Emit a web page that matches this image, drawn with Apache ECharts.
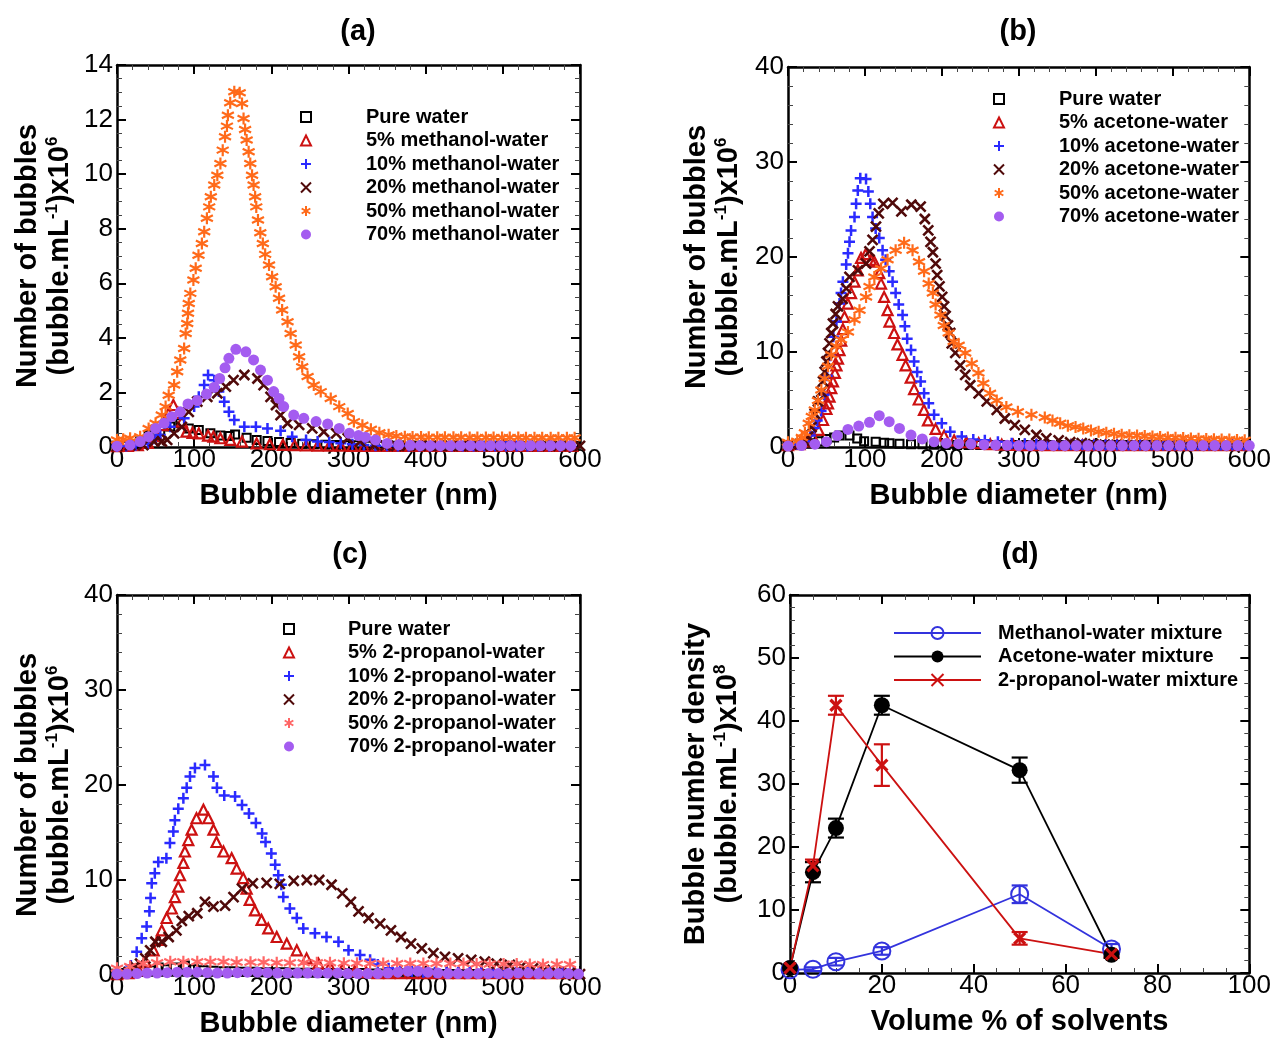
<!DOCTYPE html>
<html><head><meta charset="utf-8">
<script src="https://cdn.jsdelivr.net/npm/echarts@6/dist/echarts.min.js"></script>
<style>html,body{margin:0;padding:0;background:#fff}#c{width:1274px;height:1039px}</style>
</head><body><div id="c"></div><script>
// ---------- Panel (a): methanol-water ----------
const a_water = [[0,0.03],[12,0.05],[22,0.1],[30,0.2],[41,0.44],[56,0.6],[69,0.75],[82,0.87],[93,0.68],[106,0.62],[121,0.5],[134,0.42],[146,0.4],[153,0.46],[168,0.34],[181,0.26],[195,0.22],[210,0.18],[225,0.15],[240,0.12],[255,0.1],[270,0.08],[284,0.07],[298,0.06],[312,0.06],[326,0.05],[340,0.05],[354,0.05],[368,0.05],[382,0.05],[396,0.05],[410,0.04],[424,0.04],[438,0.04],[452,0.04],[466,0.04],[480,0.04],[494,0.04],[508,0.04],[522,0.04],[536,0.04],[550,0.04],[564,0.04],[578,0.04],[592,0.04]];
const a_5 = [[0,0.03],[14,0.04],[27,0.07],[40,0.15],[52,0.4],[60,0.8],[67,1.23],[73,1.54],[79,1.25],[84,0.93],[90,0.56],[98,0.52],[106,0.5],[118,0.42],[125,0.38],[134,0.32],[147,0.26],[162,0.2],[181,0.13],[198,0.1],[215,0.08],[230,0.07],[245,0.06],[260,0.05],[275,0.05],[290,0.05],[305,0.04],[320,0.04],[335,0.04],[350,0.04],[365,0.04],[380,0.04],[395,0.04],[410,0.04],[425,0.04],[440,0.04],[455,0.04],[470,0.04],[485,0.04],[500,0.04],[515,0.04],[530,0.04],[545,0.04],[560,0.04],[575,0.04],[590,0.04]];
const a_10 = [[0,0.03],[12,0.04],[24,0.06],[40,0.12],[50,0.3],[56,0.44],[69,0.74],[87,1.05],[100,1.48],[106,1.84],[113,2.27],[118,2.64],[126,2.45],[132,2.03],[139,1.66],[145,1.29],[152,0.99],[165,0.74],[180,0.74],[195,0.68],[212,0.6],[227,0.38],[245,0.26],[260,0.2],[275,0.18],[290,0.14],[305,0.1],[320,0.07],[335,0.05],[350,0.05],[364,0.04],[378,0.04],[392,0.04],[406,0.04],[420,0.04],[434,0.04],[448,0.04],[462,0.04],[476,0.04],[490,0.04],[504,0.04],[518,0.04],[532,0.04],[546,0.04],[560,0.04],[574,0.04],[588,0.04]];
const a_20 = [[0,0.03],[17,0.07],[34,0.07],[48,0.2],[58,0.2],[65,0.26],[74,0.5],[84,0.74],[93,1.29],[104,1.66],[117,1.84],[130,1.97],[141,2.21],[151,2.45],[165,2.64],[182,2.51],[190,2.27],[199,1.84],[206,1.54],[212,1.17],[221,0.87],[236,0.81],[253,0.68],[268,0.56],[284,0.5],[299,0.32],[315,0.2],[333,0.07],[348,0.05],[362,0.04],[376,0.04],[390,0.04],[404,0.04],[418,0.04],[432,0.04],[446,0.04],[460,0.04],[474,0.04],[488,0.04],[502,0.04],[516,0.04],[530,0.04],[544,0.04],[558,0.04],[572,0.04],[586,0.04],[600,0.04]];
const a_50 = [[0,0.26],[8,0.28],[17,0.32],[30,0.38],[41,0.68],[50,0.87],[58,1.17],[63,1.48],[67,1.9],[74,2.27],[78,2.76],[82,3.19],[87,3.61],[89,4.16],[91,4.53],[92,4.9],[93,5.26],[95,5.63],[99,6.12],[102,6.55],[105.6,7.03],[110,7.46],[113,7.89],[116.5,8.38],[119.5,8.8],[121.6,9.17],[126,9.6],[130,9.96],[134,10.39],[137,10.88],[140,11.37],[142.5,11.76],[143.7,12.16],[146.7,12.62],[152,13.02],[159,12.98],[162,12.59],[164,12.04],[166,11.64],[168,11.25],[170.6,10.82],[172.7,10.39],[175,9.96],[177,9.6],[179,9.17],[180.5,8.8],[182.7,8.32],[185.7,7.85],[189,7.46],[192,7.06],[197,6.67],[201,6.24],[205.6,5.87],[210,5.45],[214,5.02],[221,4.59],[225,4.16],[231.6,3.74],[236,3.31],[240,2.94],[247,2.58],[255,2.27],[264,2.03],[277,1.78],[288,1.48],[299,1.23],[307,0.93],[318,0.8],[329,0.65],[340,0.52],[352,0.45],[362,0.4],[373,0.38],[383,0.37],[394,0.37],[404,0.36],[415,0.36],[425,0.36],[436,0.36],[446,0.36],[457,0.35],[467,0.35],[478,0.35],[488,0.35],[499,0.35],[509,0.35],[520,0.35],[530,0.34],[541,0.34],[551,0.34],[562,0.34],[572,0.34],[583,0.34],[593,0.34]];
const a_70 = [[0,0.03],[17,0.07],[30,0.2],[41,0.38],[50,0.68],[61,0.87],[71,1.11],[82,1.29],[92,1.58],[104,1.7],[116,1.94],[126,2.19],[133,2.51],[140,2.9],[145,3.25],[154,3.58],[167,3.49],[177,3.19],[186,2.82],[195,2.45],[203,2.03],[210,1.78],[216,1.48],[229,1.17],[242,1.05],[258,0.93],[273,0.84],[288,0.68],[301,0.5],[313,0.42],[322,0.36],[335,0.26],[350,0.13],[365,0.08],[380,0.06],[393,0.05],[406,0.05],[419,0.05],[432,0.05],[445,0.05],[458,0.05],[471,0.05],[484,0.05],[497,0.05],[510,0.05],[523,0.05],[536,0.05],[549,0.05],[562,0.05],[575,0.05],[588,0.05]];

// ---------- Panel (b): acetone-water ----------
const b_water = [[0,0.2],[15,0.25],[30,0.4],[40,0.6],[50,0.85],[60,1.0],[67,1.2],[80,1.2],[90,0.9],[99,0.6],[114,0.55],[125,0.45],[132,0.4],[145,0.35],[160,0.3],[175,0.28],[190,0.25],[205,0.22],[220,0.2],[235,0.2],[250,0.2],[265,0.2],[280,0.2],[295,0.2],[310,0.2],[325,0.2],[340,0.2],[355,0.2],[370,0.2],[385,0.2],[400,0.2],[415,0.2],[430,0.2],[445,0.2],[460,0.2],[475,0.2],[490,0.2],[505,0.2],[520,0.2],[535,0.2],[550,0.2],[565,0.2],[580,0.2],[595,0.2]];
const b_5 = [[0,0.2],[15,0.3],[25,0.6],[33,1],[40,1.8],[45.6,2.84],[50,4],[52,4.6],[54,5.3],[56.3,6.2],[58.5,6.9],[61,7.8],[63,8.6],[65,9.3],[67,10.2],[69.2,11.2],[71.4,12.4],[73.5,13.7],[77.8,15.1],[82,16.2],[86.5,17.4],[90.8,18.6],[95,19.9],[101,20.3],[108,19.7],[112.3,19.5],[118.7,18.3],[121,17.2],[125,15.8],[129.5,14.4],[132,13.2],[138,12],[142.4,10.8],[149,9.7],[153,8.6],[159.6,7.3],[164,6.1],[170,5.0],[176.8,3.9],[182,2.8],[192,1.9],[203,1.2],[216,0.7],[232,0.5],[248,0.4],[263,0.3],[278,0.25],[293,0.22],[308,0.2],[323,0.2],[338,0.2],[353,0.2],[368,0.2],[383,0.2],[398,0.2],[413,0.2],[428,0.2],[443,0.2],[458,0.2],[473,0.2],[488,0.2],[503,0.2],[518,0.2],[533,0.2],[548,0.2],[563,0.2],[578,0.2],[593,0.2]];
const b_10 = [[0,0.2],[12,0.3],[22,0.6],[29,1.2],[34,2],[38,2.8],[43,3.8],[47,5.5],[51,7.5],[55,9.6],[59,11.6],[63,13.2],[67,15.1],[69,16.2],[71.4,17.4],[75.7,19.2],[78,20.4],[80,21.6],[82,22.8],[86.5,24.2],[88.6,25.6],[90.8,27],[94,28.3],[101.5,28.2],[104.5,26.9],[107,25.6],[110,24.2],[114,23],[118.7,22],[123,20.7],[127,19.7],[131.6,18.5],[136,17.4],[140,16.2],[144,15],[149,13.9],[152,12.7],[155,11.4],[160,10.2],[164,9],[168,7.9],[172.5,6.9],[177,5.65],[183,4.6],[190,3.4],[200,2.5],[211,1.6],[226,1.1],[241,0.8],[256,0.7],[273,0.56],[291,0.4],[308,0.35],[323,0.3],[338,0.28],[353,0.25],[368,0.25],[383,0.25],[398,0.22],[413,0.22],[428,0.22],[443,0.2],[458,0.2],[473,0.2],[488,0.2],[503,0.2],[518,0.2],[533,0.2],[548,0.2],[563,0.2],[578,0.2],[593,0.2]];
const b_20 = [[0,0.2],[15,0.3],[22,0.6],[26,1.1],[30.5,2.1],[34.8,3.5],[39,4.8],[43.4,5.8],[45.6,6.9],[47.7,7.9],[50,9],[52,9.9],[54,10.9],[56.3,12],[58.5,13],[62,14],[65,14.8],[71,15.6],[75.7,16.7],[80,17.9],[91,18.6],[101.5,19.3],[106,20.6],[110,21.8],[114.4,23.2],[118,24.6],[124,25.6],[136,25.7],[147.5,24.8],[160.4,25.5],[172.5,25.3],[178,24],[182.4,22.8],[185.4,21.6],[188.4,20.5],[192,19.3],[194,18.1],[197,16.9],[200.5,15.8],[203,14.8],[205,13.8],[208,12.8],[211,12],[213,10.9],[217.6,9.9],[224,8.6],[230.5,7.6],[237,6.5],[248,5.65],[258.5,4.8],[271.5,3.9],[282,3],[295,2.3],[308,1.8],[323,1.26],[336,0.9],[352,0.7],[367,0.5],[382,0.4],[397,0.3],[412,0.25],[427,0.22],[442,0.2],[457,0.2],[472,0.2],[487,0.2],[502,0.2],[517,0.2],[532,0.2],[547,0.2],[562,0.2],[577,0.2],[592,0.2]];
const b_50 = [[0,0.5],[12,0.6],[18,1.0],[22,1.5],[27,2.5],[31,3.2],[34.8,3.9],[39,4.9],[43.4,6],[47.7,7.2],[52,8.5],[56.3,9.7],[63,10.6],[69,11.3],[78,12.1],[86.5,13.4],[93,14.4],[101.5,15.8],[106,16.9],[112.3,17.9],[121,18.8],[129.5,19.7],[140,20.7],[151,21.5],[162,20.7],[170.4,19.5],[177,18.5],[183,17.2],[188.4,16.2],[192,15],[198.3,13.9],[202.6,12.8],[209,12],[215.5,11.1],[222,10.7],[230.5,9.9],[239,8.8],[247.7,7.8],[254,6.7],[262.8,5.65],[271.5,4.9],[284,4.2],[299,3.7],[316.6,3.4],[334,3.1],[344,2.8],[354,2.5],[364,2.25],[374,2.1],[384,1.95],[394,1.75],[404,1.6],[414,1.5],[424,1.4],[434,1.3],[444,1.25],[454,1.2],[464,1.15],[474,1.1],[484,1.05],[494,1.0],[504,0.98],[514,0.95],[524,0.9],[534,0.88],[544,0.85],[554,0.82],[564,0.8],[574,0.78],[584,0.75],[594,0.72]];
const b_70 = [[0,0.1],[17.6,0.15],[35,0.3],[50,0.56],[64,1.2],[78,1.85],[92,2.2],[106,2.6],[118.7,3.3],[131.6,2.67],[145,1.96],[160,1.26],[174.6,0.85],[190,0.56],[206,0.4],[222,0.35],[238,0.3],[255,0.25],[270,0.2],[285,0.18],[300,0.15],[315,0.15],[330,0.15],[345,0.15],[360,0.15],[375,0.15],[390,0.15],[405,0.15],[420,0.15],[435,0.15],[450,0.15],[465,0.15],[480,0.15],[495,0.15],[510,0.15],[525,0.15],[540,0.15],[555,0.15],[570,0.15],[585,0.15],[600,0.15]];

// ---------- Panel (c): 2-propanol-water ----------
const c_water = [[0,0.1],[12,0.2],[24,0.3],[35,0.4],[45,0.5],[54,0.8],[63,0.6],[75,0.8],[88,1.0],[100,0.6],[112,0.5],[125,0.45],[138,0.4],[151,0.4],[164,0.35],[177,0.35],[190,0.3],[203,0.3],[216,0.3],[229,0.25],[242,0.25],[255,0.25],[268,0.2],[281,0.2],[294,0.2],[307,0.2],[320,0.2],[333,0.15],[346,0.15],[359,0.15],[372,0.15],[385,0.15],[398,0.15],[411,0.15],[424,0.1],[437,0.1],[450,0.1],[463,0.1],[476,0.1],[489,0.1],[502,0.1],[515,0.1],[528,0.1],[541,0.1],[554,0.1],[567,0.1],[580,0.1],[593,0.1]];
const c_5 = [[0,0.1],[15,0.2],[28,0.5],[37,1.4],[47.5,2.6],[53,3.7],[58,4.7],[64.3,6],[71,7],[75,8.2],[79.4,9.3],[81.6,10.5],[86,11.8],[88,13],[92.4,14.2],[96.7,15.3],[103,16.5],[112,17.4],[118.3,16.5],[125,15.3],[129,14],[138,13],[148.6,12.3],[155,11.2],[163.6,10.2],[168,9.1],[172,7.9],[178.7,6.8],[187.3,5.8],[196,4.9],[207,4],[220,3.3],[233,2.6],[245.7,1.75],[261,1.2],[276,0.9],[292,0.6],[308,0.4],[323,0.3],[338,0.2],[353,0.2],[368,0.2],[383,0.2],[398,0.2],[413,0.2],[428,0.2],[443,0.2],[458,0.2],[473,0.2],[488,0.2],[503,0.2],[518,0.2],[533,0.2],[548,0.2],[563,0.2],[578,0.2],[593,0.2]];
const c_10 = [[0,0.1],[10,0.3],[18,1.0],[25.5,2.45],[32,3.86],[38.4,5.1],[42,6.7],[43.5,8.1],[45,9.65],[49,10.7],[53.5,11.9],[64,12.3],[68.6,13.9],[73,15.1],[75,16.3],[79.4,17.5],[86,18.6],[90.3,19.7],[94.6,20.9],[101,21.8],[114,22.1],[125,20.9],[129.5,19.7],[139,18.9],[153,18.8],[162,17.9],[171,17],[180,16],[188,14.9],[192.5,14],[200,12.8],[205,11.6],[209,10.5],[213,9.5],[215.5,8.2],[224,7],[233,6],[241.4,4.9],[256.5,4.4],[271.5,4.0],[287,3.5],[300,2.6],[315,2.1],[328,1.6],[338,1.1],[352,0.7],[367,0.5],[382,0.4],[397,0.3],[412,0.3],[427,0.3],[442,0.3],[457,0.3],[472,0.3],[487,0.3],[502,0.3],[517,0.3],[532,0.3],[547,0.3],[562,0.3],[577,0.3],[592,0.3]];
const c_20 = [[0,0.1],[15,0.3],[23,0.9],[30,1.2],[36.7,1.75],[43,2.6],[49.7,3.5],[58,3.5],[67,4.0],[77,4.7],[84,5.7],[93,6.2],[104,6.5],[114,7.7],[125,7.2],[140,7.3],[151,8.2],[162,9.1],[176,9.65],[194,9.7],[211,9.6],[229,9.9],[246,10],[262,10],[278,9.5],[292,8.6],[303,7.7],[313,6.7],[326,6],[341,5.4],[355,4.7],[368,4],[381,3.3],[395,2.8],[410,2.3],[425,1.9],[442,1.75],[459,1.6],[476.6,1.4],[492,1.2],[509,1.05],[524,0.9],[539,0.7],[554,0.53],[569.5,0.35],[586.7,0.18],[600,0.1]];
const c_50 = [[0,0.7],[17,0.9],[34,1.2],[52,1.3],[69,1.4],[86,1.4],[104,1.4],[121,1.4],[138,1.4],[155,1.35],[173,1.35],[190,1.35],[207,1.3],[224,1.3],[242,1.3],[259,1.3],[276,1.3],[294,1.25],[311,1.25],[328,1.2],[345,1.2],[363,1.2],[380,1.2],[397,1.2],[414,1.2],[432,1.2],[449,1.2],[466,1.15],[483,1.15],[501,1.15],[518,1.15],[535,1.1],[552,1.1],[570,1.1],[587,1.1]];
const c_70 = [[0,0.1],[13,0.1],[26,0.15],[39,0.2],[52,0.2],[65,0.25],[78,0.3],[91,0.3],[104,0.3],[117,0.25],[130,0.2],[143,0.2],[156,0.25],[169,0.3],[182,0.3],[195,0.25],[208,0.2],[221,0.2],[234,0.2],[247,0.2],[260,0.2],[273,0.2],[286,0.2],[299,0.15],[312,0.15],[325,0.15],[338,0.15],[351,0.2],[364,0.3],[377,0.4],[390,0.4],[403,0.3],[416,0.2],[429,0.15],[442,0.15],[455,0.15],[468,0.15],[481,0.15],[494,0.15],[507,0.15],[520,0.2],[533,0.2],[546,0.15],[559,0.15],[572,0.15],[585,0.15],[598,0.1]];

// ---------- Panel (d): bubble number density ----------
const d_x = [0, 5, 10, 20, 50, 70];
const d_meth = [0.5, 0.6, 1.8, 3.5, 12.5, 3.8];
const d_meth_err = [0.3, 0.3, 0.6, 0.6, 1.4, 0.8];
const d_acet = [0.8, 16, 23, 42.5, 32.2, 2.9];
const d_acet_err = [0.3, 1.6, 1.5, 1.5, 2.0, 0.5];
const d_prop = [0.8, 17, 42.5, 33, 5.5, 3];
const d_prop_err = [0.3, 1.0, 1.5, 3.3, 1.0, 0.4];

const namesA = ['Pure water','5% methanol-water','10% methanol-water','20% methanol-water','50% methanol-water','70% methanol-water'];
const namesB = ['Pure water','5% acetone-water','10% acetone-water','20% acetone-water','50% acetone-water','70% acetone-water'];
const namesC = ['Pure water','5% 2-propanol-water','10% 2-propanol-water','20% 2-propanol-water','50% 2-propanol-water','70% 2-propanol-water'];
const namesD = ['Methanol-water mixture','Acetone-water mixture','2-propanol-water mixture'];

// ---------- styling ----------
const FONT = '"Liberation Sans", Arial, Helvetica, sans-serif';
const PLUS = 'path://M0,5L10,5M5,0L5,10';
const CROSS = 'path://M0,0L10,10M10,0L0,10';
const STAR = 'path://M5,0L5,10M0.67,2.5L9.33,7.5M0.67,7.5L9.33,2.5';
const C_ORANGE = '#ff6a1a', C_RED = '#cc1111', C_BLUE = '#2a2aff', C_BROWN = '#500a0a', C_PURPLE = '#a45cf0', C_PINK = '#ff6666';

const grids = [
  {left:117, top:65, width:463, height:382},
  {left:788, top:67, width:465, height:380},
  {left:117, top:595, width:463, height:380},
  {left:790, top:595, width:463, height:378}
];

function baseAxis(min, max, interval, minorSplit) {
  return {
    min, max, interval,
    axisLine: {show:true, onZero:false, lineStyle:{color:'#000', width:2.5}},
    axisTick: {show:true, inside:true, length:9, lineStyle:{color:'#000', width:2}},
    minorTick: {show:true, splitNumber:minorSplit, length:5, lineStyle:{color:'#444', width:1}},
    splitLine: {show:false},
    axisLabel: {color:'#000', fontSize:26, fontFamily:FONT, margin:4}
  };
}
const richY = {
  a: {fontSize:29, fontWeight:'bold', fontFamily:FONT, color:'#000', lineHeight:32},
  s: {fontSize:17, fontWeight:'bold', fontFamily:FONT, color:'#000', lineHeight:20, verticalAlign:'top'}
};
const xAxes = [], yAxes = [];
function addAxes(g, xr, yr, xName, yName, yGap) {
  const xb = baseAxis(xr[0], xr[1], xr[2], xr[3]);
  Object.assign(xb, {type:'value', gridIndex:g, position:'bottom', name:xName, nameLocation:'middle', nameGap:34,
    nameTextStyle:{fontSize:29, fontWeight:'bold', fontFamily:FONT, color:'#000'}});
  xb.axisLabel = Object.assign({}, xb.axisLabel, {margin:0});
  const xt = baseAxis(xr[0], xr[1], xr[2], xr[3]);
  Object.assign(xt, {type:'value', gridIndex:g, position:'top'});
  xt.axisLabel = {show:false};
  const yl = baseAxis(yr[0], yr[1], yr[2], yr[3]);
  Object.assign(yl, {type:'value', gridIndex:g, position:'left', name:yName, nameLocation:'middle', nameGap:yGap, nameRotate:90,
    nameTextStyle:{rich:richY}});
  const yri = baseAxis(yr[0], yr[1], yr[2], yr[3]);
  Object.assign(yri, {type:'value', gridIndex:g, position:'right'});
  yri.axisLabel = {show:false};
  xAxes.push(xb, xt); yAxes.push(yl, yri);
}
const yNameBubbles = '{a|Number of bubbles}\n{a|(bubble.mL}{s|-1}{a|)x10}{s|6}';
addAxes(0, [0,600,100,5], [0,14,2,4], 'Bubble diameter (nm)', yNameBubbles, 41);
addAxes(1, [0,600,100,5], [0,40,10,5], 'Bubble diameter (nm)', yNameBubbles, 43);
addAxes(2, [0,600,100,5], [0,40,10,5], 'Bubble diameter (nm)', yNameBubbles, 41);
addAxes(3, [0,100,20,4], [0,60,10,5], 'Volume % of solvents', '{a|Bubble number density}\n{a|(bubble.mL}{s|-1}{a|)x10}{s|8}', 46);

function sc(g, name, data, symbol, size, color, opts) {
  const o = opts || {};
  return {
    type:'scatter', name, data, xAxisIndex:2*g, yAxisIndex:2*g, symbol, symbolSize:size,
    itemStyle: {opacity:1, color: o.filled ? color : 'rgba(0,0,0,0)', borderColor: color, borderWidth: o.filled ? 0 : (o.bw || 2)},
    emphasis:{disabled:true}, silent:true, animation:false
  };
}
function panelSeries(g, names, data, fiftyColor) {
  return [
    sc(g, names[0], data[0], 'rect', 8, '#000', {bw:2}),
    sc(g, names[1], data[1], 'triangle', 10, C_RED, {bw:2.2}),
    sc(g, names[2], data[2], PLUS, 11, C_BLUE, {bw:2.5}),
    sc(g, names[3], data[3], CROSS, 10, C_BROWN, {bw:2.6}),
    sc(g, names[4], data[4], STAR, 12, fiftyColor, {bw:2.2}),
    sc(g, names[5], data[5], 'circle', 11, C_PURPLE, {filled:true})
  ];
}
const series = [].concat(
  panelSeries(0, namesA, [a_water,a_5,a_10,a_20,a_50,a_70], C_ORANGE),
  panelSeries(1, namesB, [b_water,b_5,b_10,b_20,b_50,b_70], C_ORANGE),
  panelSeries(2, namesC, [c_water,c_5,c_10,c_20,c_50,c_70], C_PINK)
);

function errSeries(ys, errs, color) {
  return {
    type:'custom', xAxisIndex:6, yAxisIndex:6, silent:true, animation:false, z:3,
    data: d_x.map((x,i) => [x, ys[i], errs[i]]),
    renderItem: function(params, api) {
      const x = api.value(0), y = api.value(1), e = api.value(2);
      const t = api.coord([x, y + e]), b = api.coord([x, y - e]);
      const w = 8, st = {stroke: color, lineWidth: 2.2};
      return {type:'group', children:[
        {type:'line', shape:{x1:t[0], y1:t[1], x2:b[0], y2:b[1]}, style:st},
        {type:'line', shape:{x1:t[0]-w, y1:t[1], x2:t[0]+w, y2:t[1]}, style:st},
        {type:'line', shape:{x1:b[0]-w, y1:b[1], x2:b[0]+w, y2:b[1]}, style:st}
      ]};
    }
  };
}
function lineSeries(name, ys, color, symbol, size, filled, bw) {
  return {
    type:'line', name, xAxisIndex:6, yAxisIndex:6, data: d_x.map((x,i) => [x, ys[i]]),
    symbol, symbolSize:size, showAllSymbol:true, animation:false, silent:true, z:4,
    lineStyle:{color, width:1.8},
    itemStyle:{opacity:1, color: filled ? color : 'rgba(0,0,0,0)', borderColor:color, borderWidth: filled ? 0 : bw},
    emphasis:{disabled:true}
  };
}
series.push(
  errSeries(d_meth, d_meth_err, '#3333dd'),
  errSeries(d_acet, d_acet_err, '#000'),
  errSeries(d_prop, d_prop_err, C_RED),
  lineSeries(namesD[0], d_meth, '#3333dd', 'circle', 17, false, 2),
  lineSeries(namesD[1], d_acet, '#000', 'circle', 16, true, 0),
  lineSeries(namesD[2], d_prop, C_RED, CROSS, 11, false, 3.2)
);

function legend(left, top, names, iw, pad) {
  return {
    orient:'vertical', left, top, padding:0, itemWidth:iw, itemHeight:10, itemGap:3.5, selectedMode:false,
    data: names,
    textStyle:{fontSize:20, fontWeight:'bold', fontFamily:FONT, color:'#000', lineHeight:20, padding:[0,0,0,pad]}
  };
}
const legends = [
  legend(300, 107, namesA, 10, 50),
  legend(993, 89, namesB, 10, 50),
  legend(283, 619, namesC, 10, 49),
  Object.assign(legend(893, 623, namesD, 87, 12), {itemHeight:15})
];

const titleStyle = {font:'bold 29px "Liberation Sans", Arial, sans-serif', fill:'#000', textAlign:'center', textVerticalAlign:'middle'};
const graphic = [
  {type:'text', x:358, y:32, style:Object.assign({text:'(a)'}, titleStyle)},
  {type:'text', x:1018, y:32, style:Object.assign({text:'(b)'}, titleStyle)},
  {type:'text', x:350, y:555, style:Object.assign({text:'(c)'}, titleStyle)},
  {type:'text', x:1020, y:555, style:Object.assign({text:'(d)'}, titleStyle)}
];

const chart = echarts.init(document.getElementById('c'), null, {renderer:'canvas'});
chart.setOption({
  backgroundColor:'#fff',
  animation:false,
  grid: grids,
  xAxis: xAxes,
  yAxis: yAxes,
  legend: legends,
  graphic,
  series
});
</script></body></html>
